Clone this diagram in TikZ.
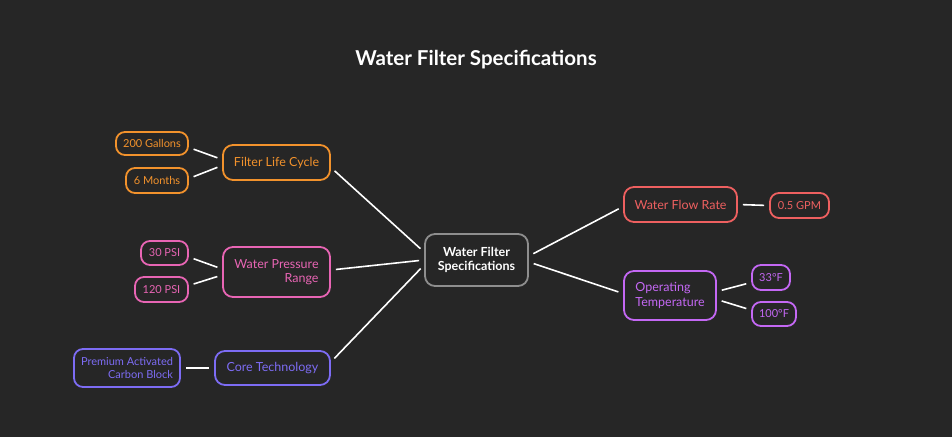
\documentclass[tikz,border=0pt]{standalone}
\usepackage{fontspec}
\setmainfont{Lato}
\usetikzlibrary{calc}
\definecolor{bg}{HTML}{262626}
\definecolor{corange}{HTML}{F2922C}
\definecolor{cpink}{HTML}{E865B4}
\definecolor{cpurple}{HTML}{7D6CF4}
\definecolor{cred}{HTML}{EE6060}
\definecolor{cviolet}{HTML}{C468F4}
\definecolor{cgray}{HTML}{8E8E8E}
\tikzset{
  box/.style={draw, line width=1.8pt, rounded corners=10pt, fill=bg, inner sep=0pt,
    font=\fontsize{12.5}{14.5}\selectfont},
  leaf/.style={draw, line width=1.8pt, rounded corners=9pt, fill=bg, inner sep=0pt,
    font=\fontsize{11}{12.5}\selectfont},
  link/.style={draw=white, line width=1.6pt, shorten <=5pt, shorten >=5pt},
}
\begin{document}
\begin{tikzpicture}[x=1pt,y=-1pt]
\fill[bg] (0,0) rectangle (952,437);
\useasboundingbox (0,0) rectangle (952,437);
\node[text=white, font=\fontsize{20.5}{24}\selectfont\bfseries] (title) at (476,60) {Water Filter Specifications};

\node[box, draw=cgray, text=white, minimum width=103pt, minimum height=52pt, align=center,
  font=\fontsize{12.5}{14.5}\selectfont\bfseries] (c) at (476.5,260) {Water Filter\\Specifications};

\node[box, draw=corange, text=corange, minimum width=107pt, minimum height=35pt] (flc) at (276.5,162.5) {Filter Life Cycle};
\node[leaf, draw=corange, text=corange, minimum width=72pt, minimum height=23pt] (g200) at (152,143.5) {200 Gallons};
\node[leaf, draw=corange, text=corange, minimum width=62pt, minimum height=25pt] (m6) at (157,180.5) {6 Months};

\node[box, draw=cpink, text=cpink, minimum width=107pt, minimum height=50pt, align=right] (wpr) at (276.5,272) {Water Pressure\\Range};
\node[leaf, draw=cpink, text=cpink, minimum width=47pt, minimum height=24pt] (p30) at (164.5,253) {30 PSI};
\node[leaf, draw=cpink, text=cpink, minimum width=53pt, minimum height=25pt] (p120) at (161.5,289.5) {120 PSI};

\node[box, draw=cpurple, text=cpurple, minimum width=115pt, minimum height=34pt] (ct) at (272.5,368) {Core Technology};
\node[leaf, draw=cpurple, text=cpurple, minimum width=106pt, minimum height=38pt, align=right] (pacb) at (127,368) {Premium Activated\\Carbon Block};

\node[box, draw=cred, text=cred, minimum width=113pt, minimum height=35pt] (wfr) at (680.5,204.5) {Water Flow Rate};
\node[leaf, draw=cred, text=cred, minimum width=59pt, minimum height=25pt] (gpm) at (799.5,205.5) {0.5 GPM};

\node[box, draw=cviolet, text=cviolet, minimum width=92pt, minimum height=49pt, align=left] (ot) at (670,295.5) {Operating\\Temperature};
\node[leaf, draw=cviolet, text=cviolet, minimum width=38pt, minimum height=25pt] (t33) at (771,277.5) {33°F};
\node[leaf, draw=cviolet, text=cviolet, minimum width=44pt, minimum height=24pt] (t100) at (774,314) {100°F};

\draw[link] ($(c.west)+(0,-8)$) -- ($(flc.east)+(0,5)$);
\draw[link] ($(c.west)+(0,0)$) -- ($(wpr.east)+(0,-2)$);
\draw[link] ($(c.west)+(0,5)$) -- ($(ct.east)+(0,-6)$);
\draw[link] ($(c.east)+(0,-4)$) -- ($(wfr.west)+(0,2)$);
\draw[link] ($(c.east)+(0,2)$) -- ($(ot.west)+(0,-2)$);

\draw[link] ($(flc.west)+(0,-3)$) -- ($(g200.east)+(0,4)$);
\draw[link] ($(flc.west)+(0,3)$) -- ($(m6.east)+(0,-2)$);
\draw[link] ($(wpr.west)+(0,-3)$) -- ($(p30.east)+(0,4)$);
\draw[link] ($(wpr.west)+(0,3)$) -- ($(p120.east)+(0,-4)$);
\draw[link] (ct.west) -- (pacb.east);
\draw[link] (wfr.east) -- (gpm.west);
\draw[link] ($(ot.east)+(0,-4)$) -- ($(t33.west)+(0,5)$);
\draw[link] ($(ot.east)+(0,4)$) -- ($(t100.west)+(0,-4)$);
\end{tikzpicture}
\end{document}
